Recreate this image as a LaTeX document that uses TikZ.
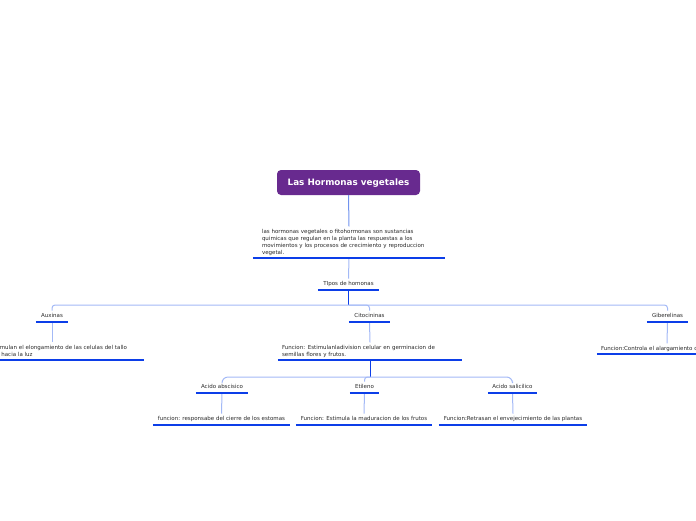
\documentclass[tikz,border=0pt]{standalone}
\usepackage{fontspec}
\setmainfont{DejaVu Sans}
\definecolor{rootc}{RGB}{104,42,143}
\definecolor{ulc}{RGB}{12,62,232}
\definecolor{lightc}{RGB}{163,185,246}
\definecolor{midc}{RGB}{112,146,238}
\definecolor{txtc}{RGB}{40,40,40}
\tikzset{
  rootbox/.style={fill=rootc, rounded corners=4pt, text=white, font=\fontsize{8.8}{10.5}\selectfont\bfseries, minimum width=143pt, minimum height=25pt, inner sep=0pt, text height=6.6pt, text depth=0pt},
  topic/.style={anchor=south, font=\fontsize{5.5}{7}\selectfont, text=txtc, inner xsep=4pt, inner ysep=3pt, text height=3.8pt, text depth=1.2pt},
  desc/.style={anchor=south, font=\fontsize{5.5}{7}\selectfont, text=txtc, align=left, inner xsep=4pt, inner ysep=2.5pt},
  uline/.style={draw=ulc, line width=2.6pt},
  lightline/.style={draw=lightc, line width=1pt},
  midline/.style={draw=midc, line width=1pt},
  darkline/.style={draw=ulc, line width=1pt},
}
\begin{document}
\begin{tikzpicture}[x=1pt,y=-1pt]
\useasboundingbox (0,0) rectangle (696,520);
\clip (0,0) rectangle (696,520);
% nodes
\node[rootbox] (root) at (348.5,182.5) {Las Hormonas vegetales};
\node[desc, text width=174pt, inner xsep=9pt] (d0) at (349,258) {las hormonas vegetales o fitohormonas son sustancias\\quimicas que regulan en la planta las respuestas a los\\movimientos y los procesos de crecimiento y reproduccion\\vegetal.};
\node[topic, minimum width=61pt] (tipos) at (348.5,290) {TIpos de homonas};
\node[topic, minimum width=32pt] (aux) at (52,322) {Auxinas};
\node[topic, minimum width=41pt] (cito) at (369.5,322) {Citocininas};
\node[topic, minimum width=41pt] (gib) at (667.5,322) {Giberelinas};
\node[desc, text width=176pt] (auxd) at (52,360) {Funcion: Estimulan el elongamiento de las celulas del tallo\\que se doble hacia la luz};
\node[desc, text width=176pt] (citod) at (370,360) {Funcion: Estimulanladivision celular en germinacion de\\semillas flores y frutos.};
\node[desc, text width=132pt] (gibd) at (667,354) {Funcion:Controla el alargamiento del tallo};
\node[topic, minimum width=52pt] (abs) at (222,393) {Acido abscisico};
\node[topic, minimum width=29pt] (eti) at (364.5,393) {Etileno};
\node[topic, minimum width=49pt] (sal) at (512.5,393) {Acido salicilico};
\node[topic, minimum width=137pt] (absd) at (221.5,425) {funcion: responsabe del cierre de los estomas};
\node[topic, minimum width=136pt] (etid) at (364,425) {Funcion: Estimula la maduracion de los frutos};
\node[topic, minimum width=148pt] (sald) at (513,425) {Funcion:Retrasan el envejecimiento de las plantas};
% connectors
\coordinate (k1) at (348.5,305);
\coordinate (k2) at (370,377);
\draw[midline] (root.south) -- (d0.north);
\draw[lightline] (d0.south) -- (tipos.north);
\draw[darkline] (tipos.south) -- (k1);
\draw[lightline, rounded corners=3pt] (k1) -| (aux.north);
\draw[lightline, rounded corners=3pt] (k1) -| (cito.north);
\draw[lightline, rounded corners=3pt] (k1) -| (gib.north);
\draw[lightline] (aux.south) -- (auxd.north);
\draw[lightline] (cito.south) -- (citod.north);
\draw[lightline] (gib.south) -- (gibd.north);
\draw[darkline] (citod.south) -- (k2);
\draw[lightline, rounded corners=6pt] (k2) -| (abs.north);
\draw[lightline, rounded corners=3pt] (k2) -| (eti.north);
\draw[lightline, rounded corners=6pt] (k2) -| (sal.north);
\draw[lightline] (abs.south) -- (absd.north);
\draw[lightline] (eti.south) -- (etid.north);
\draw[lightline] (sal.south) -- (sald.north);
% underlines
\foreach \n in {d0,tipos,aux,cito,gib,auxd,citod,gibd,abs,eti,sal,absd,etid,sald}
  \draw[uline] (\n.south west) -- (\n.south east);
\end{tikzpicture}
\end{document}
